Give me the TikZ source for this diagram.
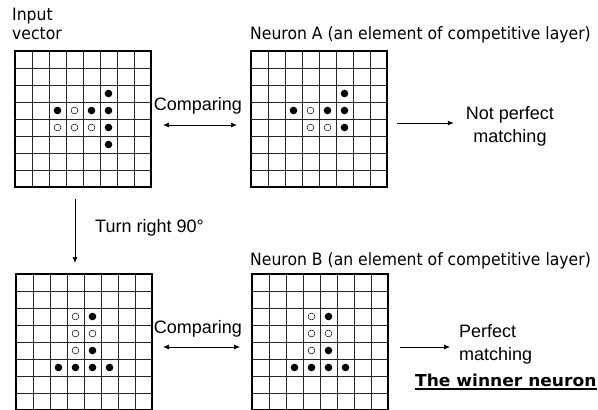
\documentclass[tikz,border=0pt]{standalone}
\usepackage{fontspec}
\setmainfont{Liberation Sans}
\newfontfamily\tah[FakeStretch=0.92]{DejaVu Sans}
\newfontfamily\verdb[FakeStretch=1.04]{DejaVu Sans Bold}
\usetikzlibrary{arrows.meta,calc}

\begin{document}
\begin{tikzpicture}[x=1pt,y=-1pt,
 gridbox/.style={draw, line width=2.2pt, minimum size=136pt, inner sep=0pt, outer sep=0pt, anchor=north west},
 gridline/.style={line width=0.6pt, black!85},
 arr/.style={-{Latex[length=6pt,width=5pt]}, line width=0.7pt},
 darr/.style={{Latex[length=6pt,width=5pt]}-{Latex[length=6pt,width=5pt]}, line width=0.7pt},
 lbl/.style={font=\fontsize{18}{23}\selectfont, inner sep=0pt},
 ttl/.style={font=\tah\fontsize{17}{21}\selectfont, inner sep=0pt, anchor=base west},
]
\useasboundingbox (0,0) rectangle (598,410);

% grids
\node[gridbox] (g1) at (15,51) {};
\node[gridbox] (g2) at (251,51) {};
\node[gridbox] (g3) at (16,274) {};
\node[gridbox] (g4) at (252,274) {};

\foreach \g in {g1,g2,g3,g4}{
  \foreach \i in {1,...,7}{
    \draw[gridline] ($(\g.north west)+(17*\i,0)$) -- ($(\g.south west)+(17*\i,0)$);
    \draw[gridline] ($(\g.north west)+(0,17*\i)$) -- ($(\g.north east)+(0,17*\i)$);
  }
}

% dots
\newcommand{\fdots}[2]{\foreach \c/\r in {#2}
  \fill[black] ($(#1.north west)+({17*\c+8.5},{17*\r+8.5})$) circle (3.8pt);}
\newcommand{\odots}[2]{\foreach \c/\r in {#2}
  \draw[black, line width=0.5pt, fill=white] ($(#1.north west)+({17*\c+8.5},{17*\r+8.5})$) circle (3.4pt);}

\fdots{g1}{5/2,2/3,4/3,5/3,5/4,5/5}
\odots{g1}{3/3,2/4,3/4,4/4}
\fdots{g2}{5/2,2/3,4/3,5/3,5/4}
\odots{g2}{3/3,3/4,4/4}
\fdots{g3}{4/2,4/4,2/5,3/5,4/5,5/5}
\odots{g3}{3/2,3/3,4/3,3/4}
\fdots{g4}{4/2,4/4,2/5,3/5,4/5,5/5}
\odots{g4}{3/2,3/3,4/3,3/4}

% titles
\node[ttl] (tin) at (12,20.5) {Input};
\node[ttl] (tvec) at (12,39.5) {vector};
\node[ttl] (tna) at (250,39.5) {Neuron A (an element of competitive layer)};
\node[ttl] (tnb) at (250,265) {Neuron B (an element of competitive layer)};

% labels
\node[lbl, anchor=base] (cmp1) at (198,110) {Comparing};
\node[lbl, anchor=base] (cmp2) at (198,333) {Comparing};
\node[lbl, anchor=base west] (turn) at (95,232) {Turn right 90\textdegree};
\node[lbl, align=center] (np) at (510,126) {Not perfect\\matching};
\node[lbl, align=left, anchor=north west] (pm) at (459,324) {Perfect\\matching};
\node[font=\verdb\fontsize{16.4}{19}\selectfont, inner sep=0pt, anchor=base west] (win) at (415,386) {The winner neuron};
\draw[line width=1.4pt] ([yshift=-3pt]win.base west) -- ([yshift=-3pt]win.base east);

% connectors
\coordinate (c1s) at ([yshift=-6pt]g1.east);
\draw[darr, shorten <=12pt, shorten >=14pt] (c1s) -- (c1s -| g2.west);
\coordinate (c2s) at ([yshift=-5pt]g3.east);
\draw[darr, shorten <=11pt, shorten >=12pt] (c2s) -- (c2s -| g4.west);
\coordinate (ds) at ([xshift=-8pt]g1.south);
\draw[arr, shorten <=12pt, shorten >=11pt] (ds) -- (ds |- g3.north);
\coordinate (a1s) at ([yshift=-4pt]g2.east);
\draw[arr, shorten <=10pt, shorten >=12pt] (a1s) -- (a1s -| np.west);
\coordinate (a2s) at ([yshift=-5pt]g4.east);
\draw[arr, shorten <=12pt, shorten >=9pt] (a2s) -- (a2s -| pm.west);
\end{tikzpicture}
\end{document}
